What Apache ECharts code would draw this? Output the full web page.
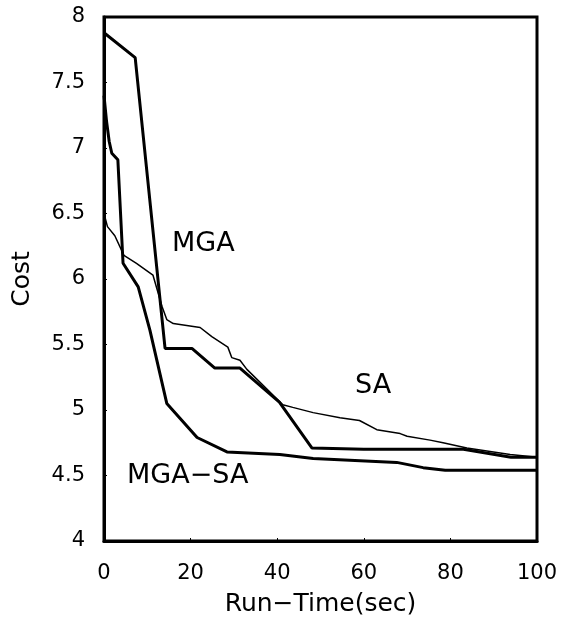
<!DOCTYPE html>
<html>
<head>
<meta charset="utf-8">
<script src="https://cdn.jsdelivr.net/npm/echarts@6/dist/echarts.min.js"></script>
<style>
  html, body { margin: 0; padding: 0; background: #fff; }
  #main { width: 571px; height: 634px; }
</style>
</head>
<body>
<div id="main"></div>
<script>
// 数据：从图上读出的 [时间(秒), 代价]
var mgaData = [
  [0, 7.88], [7.2, 7.69], [14.1, 5.47], [20.3, 5.47], [25.6, 5.32], [31.4, 5.32],
  [40.5, 5.06], [48, 4.71], [60, 4.70], [83, 4.70], [94, 4.64], [100, 4.64]
];
var saData = [
  [0, 6.5], [0.8, 6.4], [2.5, 6.33], [4.6, 6.18], [7.5, 6.12], [11.3, 6.03],
  [13.4, 5.79], [14.5, 5.69], [16, 5.66], [22.2, 5.63], [24.9, 5.56], [28.6, 5.48],
  [29.5, 5.40], [31.4, 5.38], [33, 5.31], [41.3, 5.04], [43.6, 5.02], [48.3, 4.98],
  [54.5, 4.94], [59, 4.92], [63, 4.85], [68.4, 4.82], [70, 4.80], [75.3, 4.77],
  [78.3, 4.75], [83.8, 4.71], [93.8, 4.66], [100, 4.64]
];
var mgaSaData = [
  [0, 7.4], [0.6, 7.2], [1.2, 7.05], [1.8, 6.96], [3.2, 6.91], [4.4, 6.12],
  [7.9, 5.94], [10.6, 5.61], [14.5, 5.05], [21.5, 4.79], [28.4, 4.68], [40.6, 4.66],
  [48.3, 4.63], [67.6, 4.60], [73.7, 4.56], [78.8, 4.54], [100, 4.54]
];
var xTicks = [0, 20, 40, 60, 80, 100];
var yTicks = [4, 4.5, 5, 5.5, 6, 6.5, 7, 7.5, 8];

var font = '"DejaVu Sans", sans-serif';
var chart = echarts.init(document.getElementById('main'));

function line(name, data, width) {
  return {
    name: name,
    type: 'line',
    data: data,
    symbol: 'none',
    lineStyle: { color: '#000', width: width },
    z: 3
  };
}

chart.setOption({
  animation: false,
  backgroundColor: '#fff',
  grid: {
    left: 104, right: 34, top: 17, bottom: 93,
    show: true, borderColor: '#000', borderWidth: 3
  },
  xAxis: {
    type: 'value',
    min: 0, max: 100, interval: 20,
    name: 'Run−Time(sec)',
    nameLocation: 'middle',
    nameGap: 51,
    nameTextStyle: { fontFamily: font, fontSize: 25, color: '#000' },
    axisLine: { lineStyle: { color: '#000', width: 3 } },
    axisTick: { inside: true, length: 3, lineStyle: { color: '#000', width: 1 } },
    axisLabel: {
      margin: 22, fontFamily: font, fontSize: 21, color: '#000',
      formatter: function (v) { return xTicks.indexOf(v) >= 0 ? String(v) : ''; }
    },
    splitLine: { show: false }
  },
  yAxis: {
    type: 'value',
    min: 4, max: 8, interval: 0.5,
    name: 'Cost',
    nameLocation: 'middle',
    nameGap: 69,
    nameRotate: 90,
    nameTextStyle: { fontFamily: font, fontSize: 25, color: '#000' },
    axisLine: { lineStyle: { color: '#000', width: 3 } },
    axisTick: { inside: true, length: 3, lineStyle: { color: '#000', width: 1 } },
    axisLabel: {
      margin: 19, fontFamily: font, fontSize: 21, color: '#000',
      formatter: function (v) { return yTicks.indexOf(v) >= 0 ? String(v) : ''; }
    },
    splitLine: { show: false }
  },
  graphic: [
    { type: 'text', left: 172, top: 230, style: { text: 'MGA', font: '27px ' + font, fill: '#000' } },
    { type: 'text', left: 355, top: 372, style: { text: 'SA', font: '27px ' + font, fill: '#000' } },
    { type: 'text', left: 127, top: 462, style: { text: 'MGA−SA', font: '27px ' + font, fill: '#000' } }
  ],
  series: [
    line('MGA', mgaData, 3),
    line('SA', saData, 1.5),
    line('MGA-SA', mgaSaData, 3)
  ]
});
</script>
</body>
</html>
